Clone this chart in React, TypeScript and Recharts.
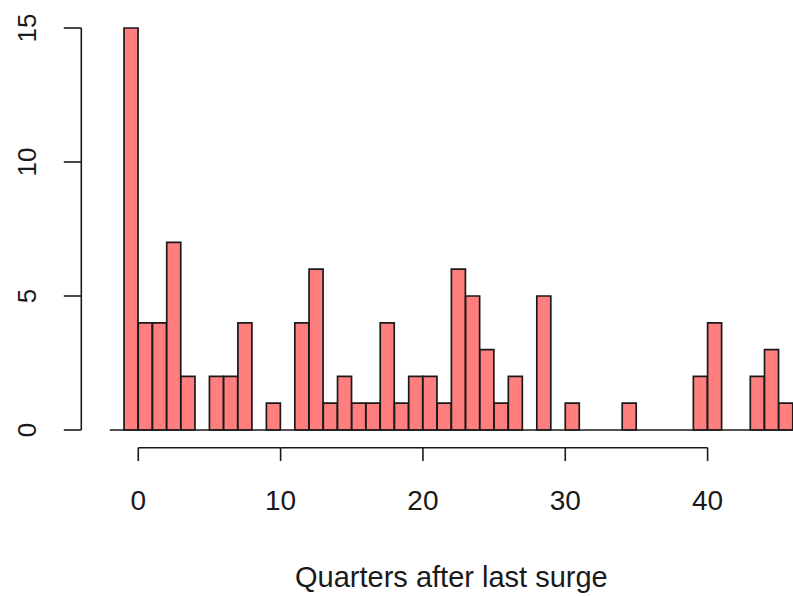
import { BarChart, Bar, XAxis, YAxis, ReferenceLine } from "recharts";

// histogram bins: [start, start + 1)
const binStarts = [
  -2, -1, 0, 1, 2, 3, 4, 5, 6, 7, 8, 9, 10, 11, 12, 13, 14, 15, 16, 17, 18, 19, 20, 21, 22, 23,
  24, 25, 26, 27, 28, 29, 30, 31, 32, 33, 34, 35, 36, 37, 38, 39, 40, 41, 42, 43, 44, 45,
];
const counts = [
  0, 15, 4, 4, 7, 2, 0, 2, 2, 4, 0, 1, 0, 4, 6, 1, 2, 1, 1, 4, 1, 2, 2, 1, 6, 5,
  3, 1, 2, 0, 5, 0, 1, 0, 0, 0, 1, 0, 0, 0, 0, 2, 4, 0, 0, 2, 3, 1,
];
const xTicks = [0, 10, 20, 30, 40];
const yTicks = [0, 5, 10, 15];
const xLabel = "Quarters after last surge";

const data = binStarts.map((bin, i) => ({ bin, count: counts[i] }));

const W = 793;
const H = 597;
const TOP = 28;
const X_AXIS_H = 167;
const Y_AXIS_W = 109.8;
const PLOT_W = W - Y_AXIS_W;
const PLOT_H = H - TOP - X_AXIS_H;
const X_MIN = -2;
const X_MAX = 46;
const Y_MAX = 15;
const FONT = "'Liberation Sans', Arial, sans-serif";
const INK = "#1a1a1a";

// R-style axis: line only between first and last tick, offset from the plot
function XTick(props: any) {
  const { x, y, payload } = props;
  const last = xTicks[xTicks.length - 1];
  const step = ((xTicks[1] - xTicks[0]) * PLOT_W) / (X_MAX - X_MIN);
  const ly = y + 17.7;
  return (
    <g>
      {payload.value !== last && (
        <line x1={x} y1={ly} x2={x + step} y2={ly} stroke={INK} strokeWidth={1.6} />
      )}
      <line x1={x} y1={ly} x2={x} y2={y + 31} stroke={INK} strokeWidth={1.6} />
      <text x={x} y={y + 80} textAnchor="middle" fontSize={28} fontFamily={FONT} fill={INK}>
        {payload.value}
      </text>
    </g>
  );
}

function YTick(props: any) {
  const { x, y, payload } = props;
  const last = yTicks[yTicks.length - 1];
  const step = ((yTicks[1] - yTicks[0]) * PLOT_H) / Y_MAX;
  const lx = x - 28.5;
  const tx = x - 83;
  return (
    <g>
      {payload.value !== last && (
        <line x1={lx} y1={y} x2={lx} y2={y - step} stroke={INK} strokeWidth={1.6} />
      )}
      <line x1={lx} y1={y} x2={lx - 17.5} y2={y} stroke={INK} strokeWidth={1.6} />
      <text
        x={tx}
        y={y}
        transform={`rotate(-90, ${tx}, ${y})`}
        textAnchor="middle"
        dominantBaseline="central"
        fontSize={26}
        fontFamily={FONT}
        fill={INK}
      >
        {payload.value}
      </text>
    </g>
  );
}

export default function App() {
  return (
    <div style={{ position: "absolute", left: 0, top: 0, width: W, height: H, background: "#fff" }}>
      <BarChart
        width={W}
        height={H}
        data={data}
        margin={{ top: TOP, right: 0, bottom: 0, left: 0 }}
        barCategoryGap={0}
        barGap={0}
      >
        <XAxis
          xAxisId="num"
          dataKey="bin"
          type="number"
          domain={[X_MIN, X_MAX]}
          ticks={xTicks}
          allowDataOverflow
          height={X_AXIS_H}
          axisLine={false}
          tickLine={false}
          tickSize={0}
          tickMargin={0}
          tick={<XTick />}
          interval={0}
          label={{ value: xLabel, position: "insideBottom", offset: 10, fontSize: 29, fontFamily: FONT, fill: INK }}
        />
        <XAxis xAxisId="bins" dataKey="bin" type="category" height={0} hide />
        <YAxis
          domain={[0, Y_MAX]}
          ticks={yTicks}
          width={Y_AXIS_W}
          axisLine={false}
          tickLine={false}
          tickSize={0}
          tickMargin={0}
          tick={<YTick />}
          interval={0}
        />
        <ReferenceLine xAxisId="bins" y={0} stroke={INK} strokeWidth={1.6} />
        <Bar
          xAxisId="bins"
          dataKey="count"
          fill="#FF7F7F"
          stroke={INK}
          strokeWidth={1.7}
          isAnimationActive={false}
        />
      </BarChart>
    </div>
  );
}
